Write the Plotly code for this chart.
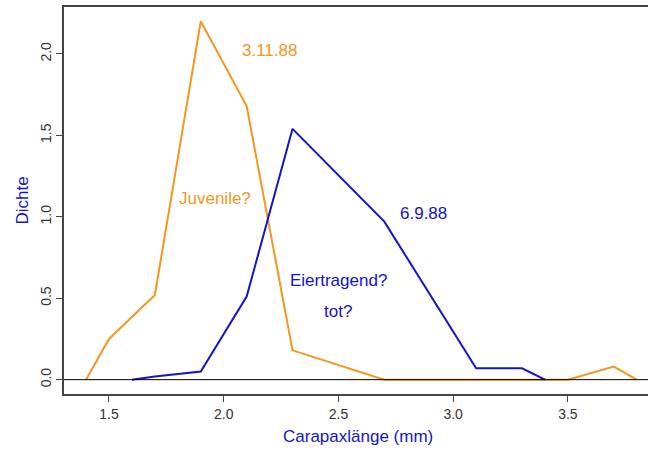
import plotly.graph_objects as go

# Data
x_nov = [1.4, 1.5, 1.7, 1.9, 2.1, 2.3, 2.7, 2.9, 3.1, 3.3, 3.5, 3.7, 3.8]
y_nov = [0.0, 0.25, 0.52, 2.2, 1.68, 0.18, 0.0, 0.0, 0.0, 0.0, 0.0, 0.08, 0.0]

x_sep = [1.6, 1.7, 1.9, 2.1, 2.3, 2.7, 3.1, 3.3, 3.4]
y_sep = [0.0, 0.02, 0.05, 0.51, 1.54, 0.97, 0.07, 0.07, 0.0]

x_ticks = [1.5, 2.0, 2.5, 3.0, 3.5]
x_ticklabels = ["1.5", "2.0", "2.5", "3.0", "3.5"]
y_ticks = [0.0, 0.5, 1.0, 1.5, 2.0]
y_ticklabels = ["0.0", "0.5", "1.0", "1.5", "2.0"]

ORANGE = "#F5961E"
BLUE = "#1414C8"
FONT = "Liberation Sans"

fig = go.Figure()
fig.add_trace(go.Scatter(x=x_nov, y=y_nov, mode="lines",
                         line=dict(color=ORANGE, width=2), showlegend=False))
fig.add_trace(go.Scatter(x=x_sep, y=y_sep, mode="lines",
                         line=dict(color=BLUE, width=2), showlegend=False))

# zero line
fig.add_shape(type="line", xref="paper", yref="y", x0=0, x1=1, y0=0, y1=0,
              line=dict(color="black", width=1))

annots = [
    dict(x=2.2, y=2.02, text="3.11.88", color=ORANGE),
    dict(x=1.96, y=1.11, text="Juvenile?", color=ORANGE),
    dict(x=2.87, y=1.02, text="6.9.88", color=BLUE),
    dict(x=2.5, y=0.61, text="Eiertragend?", color=BLUE),
    dict(x=2.5, y=0.42, text="tot?", color=BLUE),
]
for a in annots:
    fig.add_annotation(x=a["x"], y=a["y"], text=a["text"], showarrow=False,
                       font=dict(family=FONT, size=17, color=a["color"]))

# axis titles
fig.add_annotation(xref="paper", yref="paper", x=(358 - 64) / 584, y=-(436 - 394) / 387,
                   xanchor="center", yanchor="middle",
                   text="Carapaxlänge (mm)", showarrow=False,
                   font=dict(family=FONT, size=17, color=BLUE))
fig.add_annotation(xref="paper", yref="paper", x=-(64 - 22) / 584, y=0.5,
                   xanchor="center", yanchor="middle",
                   text="Dichte", textangle=-90, showarrow=False,
                   font=dict(family=FONT, size=17, color=BLUE))

fig.update_layout(
    width=648, height=452,
    margin=dict(l=64, r=0, t=7, b=58, autoexpand=False),
    paper_bgcolor="white", plot_bgcolor="white",
    font=dict(family=FONT, size=13, color="#333333"),
)
fig.update_xaxes(range=[1.304, 3.849], tickvals=x_ticks, ticktext=x_ticklabels,
                 showgrid=False, zeroline=False, showline=True, linecolor="#444444",
                 linewidth=1.5, mirror=True, ticks="outside", ticklen=6,
                 automargin=False,
                 tickcolor="#444444", tickfont=dict(family=FONT, size=14, color="#333333"))
fig.update_yaxes(range=[-0.088, 2.288], tickvals=y_ticks, ticktext=y_ticklabels,
                 showgrid=False, zeroline=False, showline=True, linecolor="#444444",
                 linewidth=1.5, ticks="outside", ticklen=6, tickangle=-90,
                 automargin=False,
                 tickcolor="#444444", tickfont=dict(family=FONT, size=14, color="#333333"))

fig.write_html("out.html", config={"displayModeBar": False},
               post_script="document.body.style.margin='0';")
